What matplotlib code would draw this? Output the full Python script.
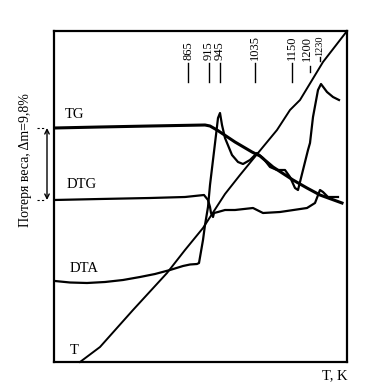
import matplotlib
matplotlib.use("Agg")
import matplotlib.pyplot as plt

plt.rcParams['font.family'] = ['Liberation Serif', 'DejaVu Serif']

# curves (x: horizontal position, y: vertical position, both in picture units)
t_x = [80, 100, 133, 167, 185, 203, 225, 240, 258, 277, 290, 300, 323, 347]
t_y = [362, 347, 310, 273, 250, 228, 194, 175, 153, 130, 110, 100, 62, 31]

tg_x = [54, 100, 150, 205, 210, 217, 235, 252, 260, 273, 293, 307, 320, 342]
tg_y = [128, 127, 126, 125, 126, 130, 142, 152, 156, 167, 180, 188, 195, 203]

dtg_x = [54, 100, 150, 185, 204, 208, 210, 211, 213, 214, 218, 225, 235, 253, 263,
         280, 307, 315, 320, 323, 328, 338]
dtg_y = [200, 199, 198, 197, 195, 200, 207, 213, 217, 213, 212, 210, 210, 208, 213,
         212, 208, 203, 190, 192, 197, 197]

dta_x = [55, 70, 87, 105, 123, 140, 155, 170, 183, 190, 197, 199, 203, 205, 208, 210,
         213, 216, 218, 220, 222, 225, 232, 238, 243, 250, 257, 263, 270, 277, 285,
         290, 295, 298, 303, 308, 310, 313, 318, 321, 327, 333, 339]
dta_y = [281, 282.5, 283, 282, 280, 277, 274, 270, 266, 264.5, 264, 263, 240, 225, 207,
         185, 160, 135, 118, 113, 125, 138, 155, 162, 164, 160, 153, 158, 167, 170,
         170, 177, 188, 190, 170, 150, 143, 117, 90, 84, 92, 97, 100]

# temperature marks along the top
mark_x = [188, 208.5, 220, 255, 292, 307, 320]
mark_lbl = ['865', '915', '945', '1035', '1150', '1200', '1230']

fig = plt.figure(figsize=(3.76, 3.88), dpi=100)
ax = fig.add_axes([54 / 376, 1 - 362 / 388, 293 / 376, 331 / 388])
ax.set_xlim(54, 347)
ax.set_ylim(362, 31)
ax.set_xticks([])
ax.set_yticks([])
for s in ax.spines.values():
    s.set_linewidth(1.6)

ax.plot(t_x, t_y, color='black', lw=1.4, clip_on=False)
ax.plot(tg_x, tg_y, color='black', lw=2.2)
ax.plot(dtg_x, dtg_y, color='black', lw=1.6)
ax.plot(dta_x, dta_y, color='black', lw=1.6)

# marks
for x, lbl in zip(mark_x, mark_lbl):
    if lbl == '1230':
        ax.text(x, 56, lbl, rotation=90, ha='center', va='bottom', fontsize=7.5)
        ax.plot([x, x], [57, 61], color='black', lw=1.0)
    elif lbl == '1200':
        ax.text(x, 61, lbl, rotation=90, ha='center', va='bottom', fontsize=9)
        ax.plot([x + 3, x + 3], [66, 72], color='black', lw=1.0)
    else:
        ax.text(x, 60, lbl, rotation=90, ha='center', va='bottom', fontsize=9)
        ax.plot([x, x], [63, 82], color='black', lw=1.0)

# curve names
ax.text(65, 115, 'TG', fontsize=10.5, va='center', ha='left')
ax.text(67, 185, 'DTG', fontsize=10.5, va='center', ha='left')
ax.text(70, 268, 'DTA', fontsize=10.5, va='center', ha='left')
ax.text(70, 350, 'T', fontsize=10.5, va='center', ha='left')
ax.text(347, 376, 'T, K', fontsize=10.5, va='center', ha='right', clip_on=False)

# mass loss span
ax.annotate('', xy=(47, 128), xytext=(47, 200), annotation_clip=False,
            arrowprops=dict(arrowstyle='<->', color='black', lw=1.0,
                            shrinkA=0, shrinkB=0, mutation_scale=8))
for yy in (128, 200):
    ax.plot([37, 45], [yy, yy], color='black', lw=0.8, ls=(0, (2, 2)), clip_on=False)
ax.text(25, 160, 'Потеря веса, Δm=9,8%', rotation=90, fontsize=10,
        ha='center', va='center', clip_on=False)

fig.savefig('out.png', dpi=100)
